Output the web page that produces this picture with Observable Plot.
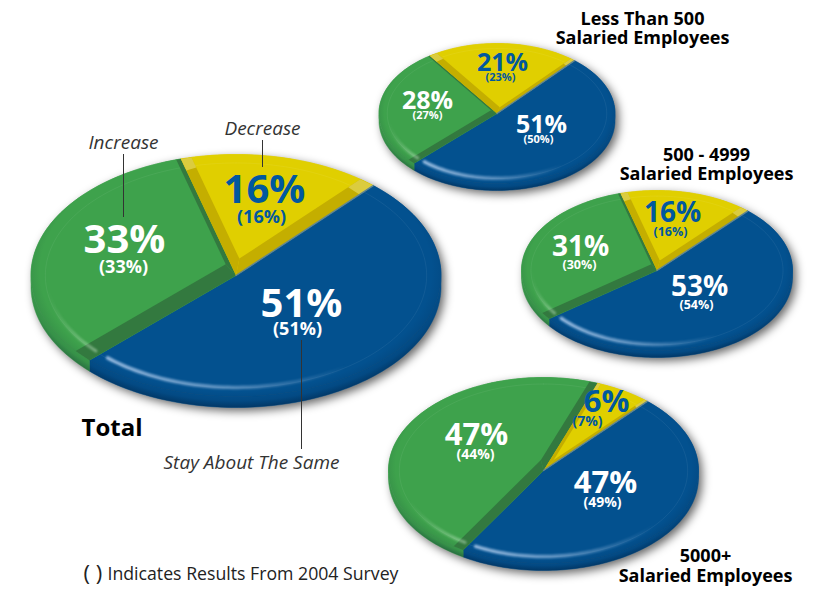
<!DOCTYPE html>
<html>
<head>
<meta charset="utf-8">
<script src="https://cdn.jsdelivr.net/npm/d3@7"></script>
<script src="https://cdn.jsdelivr.net/npm/@observablehq/plot@0.6"></script>
<style>
  html, body { margin: 0; padding: 0; background: #fff; }
  svg { display: block; }
</style>
</head>
<body>
<div id="chart"></div>
<script>
// Survey results: share of responses per company size.
const categories = ["Stay About The Same", "Increase", "Decrease"];
const groupTotal = "Total";
const group500 = ["Less Than 500", "Salaried Employees"];
const group4999 = ["500 - 4999", "Salaried Employees"];
const group5000 = ["5000+", "Salaried Employees"];

const valuesTotal = [51, 33, 16];
const valuesUnder500 = [51, 28, 21];
const values500to4999 = [53, 31, 16];
const values5000plus = [47, 47, 6];

const prior2004Total = [51, 33, 16];
const prior2004Under500 = [50, 27, 23];
const prior2004500to4999 = [54, 30, 16];
const prior20045000plus = [49, 44, 7];

const sliceColors = ["#03518f", "#3ea24c", "#e0cf00"];
const labelColors = ["#ffffff", "#ffffff", "#00589f"];

// Where each tilted pie sits, and the widths of its bevelled wedge edges.
const pieLayout = [
  {cx: 235.5, cy: 275, rx: 205, ry: 121, depth: 11, big: 40, small: 18, start: 42,
   bevel: {green: [0.073, 0.022], yellow: [0.05, 0.06]},
   labels: [[301, 304, 297, 329], [124, 240, 123, 267], [264, 190, 261, 217]]},
  {cx: 496.5, cy: 113, rx: 118, ry: 70, depth: 7, big: 25, small: 11, start: 41,
   bevel: {green: [0.05, 0.012], yellow: [0.055, 0.03]},
   labels: [[541, 124, 538, 139], [427, 100, 427, 115], [502, 62, 500, 77]]},
  {cx: 656.5, cy: 270, rx: 135.5, ry: 80, depth: 7, big: 28, small: 12.5, start: 42,
   bevel: {green: [0.06, 0.018], yellow: [0.05, 0.05]},
   labels: [[699, 287, 696, 304], [580, 247, 579, 264], [672, 213, 670, 231]]},
  {cx: 543, cy: 470, rx: 155, ry: 93, depth: 7, big: 31, small: 14, start: 42,
   bevel: {green: [0.06, 0.05], yellow: [0.02, 0.02]},
   labels: [[605, 483, 602, 502], [476, 435, 475, 454], [606, 402, 587, 421]]}
];
const pieValues = [valuesTotal, valuesUnder500, values500to4999, values5000plus];
const piePrior = [prior2004Total, prior2004Under500, prior2004500to4999, prior20045000plus];

const rad = d => d * Math.PI / 180;
const onEllipse = (p, a, k = 1, dy = 0) =>
  [p.cx + k * p.rx * Math.sin(a), p.cy - k * p.ry * Math.cos(a) + dy];
const arcPoints = (p, a0, a1, k = 1, dy = 0) => {
  const n = Math.max(2, Math.ceil(Math.abs(a1 - a0) / rad(1.5)));
  return d3.range(n + 1).map(i => onEllipse(p, a0 + (a1 - a0) * i / n, k, dy));
};
const inside = (p, [x, y]) =>
  ((x - p.cx) / p.rx) ** 2 + ((y - p.cy) / p.ry) ** 2 < 1;

// Rows for Plot.line: each closed outline becomes one z series.
const rows = {face: [], side: [], hull: [], shadow: [], inner: [], bands: [], caps: [], seams: [], glowBlue: [], glowGreen: []};
const push = (bucket, key, pts, extra = {}) =>
  pts.forEach(([x, y]) => rows[bucket].push({key, x, y, ...extra}));

// Crossing of two lines given as point + direction.
function meet(p0, d0, p1, d1) {
  const det = d0[0] * d1[1] - d0[1] * d1[0];
  const t = ((p1[0] - p0[0]) * d1[1] - (p1[1] - p0[1]) * d1[0]) / det;
  return [p0[0] + d0[0] * t, p0[1] + d0[1] * t];
}
const unit = ([x, y]) => { const l = Math.hypot(x, y); return [x / l, y / l]; };

// Walk from an interior point along dir until the ellipse edge is reached.
function toRim(p, from, dir) {
  let lo = 0, hi = p.rx * 2.2;
  for (let i = 0; i < 30; i++) {
    const mid = (lo + hi) / 2;
    if (inside(p, [from[0] + dir[0] * mid, from[1] + dir[1] * mid])) lo = mid; else hi = mid;
  }
  return [from[0] + dir[0] * lo, from[1] + dir[1] * lo];
}

// The two bevel strips running along the radial edges of one wedge.
function addBevel(p, i, arc, widths, category) {
  const V = [p.cx, p.cy];
  const R0 = onEllipse(p, arc.startAngle), R1 = onEllipse(p, arc.endAngle);
  const d0 = unit([R0[0] - V[0], R0[1] - V[1]]), d1 = unit([R1[0] - V[0], R1[1] - V[1]]);
  // Inward normals: clockwise-travelling wedge, so rotate each edge direction toward the interior.
  const n0 = [-d0[1], d0[0]], n1 = [d1[1], -d1[0]];
  const w0 = widths[0] * p.rx, w1 = widths[1] * p.rx;
  const A0 = [V[0] + n0[0] * w0, V[1] + n0[1] * w0];
  const A1 = [V[0] + n1[0] * w1, V[1] + n1[1] * w1];
  const Vi = meet(A0, d0, A1, d1);
  const E0 = toRim(p, Vi, d0), E1 = toRim(p, Vi, d1);
  const strips = [[R0, E0, w0, 0], [R1, E1, w1, 1]];
  strips.forEach(([R, E, w, side]) => {
    push("bands", `${i}-${category}-${side}`, [V, R, E, Vi, V], {category});
    if (category === "yellow") {
      const mix = (a, b, t) => [a[0] + (b[0] - a[0]) * t, a[1] + (b[1] - a[1]) * t];
      push("caps", `${i}-${side}`, [R, E, mix(E, Vi, 0.1), mix(R, V, 0.1), R]);
    }
  });
}

pieLayout.forEach((p, i) => {
  const arcs = d3.pie().sort(null).startAngle(rad(p.start)).endAngle(rad(p.start + 360))(pieValues[i]);
  // Outline of the whole extruded disc.
  const hull = d3.range(0, 361, 2).map(deg => onEllipse(p, rad(deg), 1, Math.cos(rad(deg)) < 0 ? p.depth : 0));
  push("hull", i, hull);
  push("shadow", i, hull.map(([x, y]) => [x + 3.5, y + 3.5]));
  push("inner", i, arcPoints(p, 0, 2 * Math.PI, 0.93));
  arcs.forEach((arc, j) => {
    const category = categories[j];
    const wedge = [[p.cx, p.cy], ...arcPoints(p, arc.startAngle, arc.endAngle)];
    push("face", `${i}-${j}`, [...wedge, wedge[0]], {category});
    const top = arcPoints(p, arc.startAngle, arc.endAngle);
    const bottom = arcPoints(p, arc.endAngle, arc.startAngle, 1, p.depth);
    push("side", `${i}-${j}`, [...top, ...bottom, top[0]], {category});
  });
  addBevel(p, i, arcs[1], p.bevel.green, "green");
  addBevel(p, i, arcs[2], p.bevel.yellow, "yellow");
  push("seams", i, [[p.cx, p.cy], onEllipse(p, arcs[0].startAngle)]);
  // Soft light catching the front rim, either side of the blue/green joint.
  push("glowBlue", i, arcPoints(p, arcs[0].endAngle - rad(3), arcs[0].endAngle - rad(82), 0.925));
  push("glowGreen", i, arcPoints(p, arcs[1].startAngle + rad(2), arcs[1].startAngle + rad(38), 0.925));
});

// Percentage labels: current value on top, 2004 value in parentheses below.
const labelRows = pieLayout.flatMap((p, i) => p.labels.flatMap((at, j) => [
  {x: at[0], y: at[1], text: `${pieValues[i][j]}%`, size: p.big, color: labelColors[j]},
  {x: at[2], y: at[3], text: `(${piePrior[i][j]}%)`, size: p.small, color: labelColors[j]}
]));

const headingRows = [
  {x: 642, y: 19, text: group500[0]}, {x: 642, y: 38, text: group500[1]},
  {x: 706, y: 155, text: group4999[0]}, {x: 706, y: 174, text: group4999[1]},
  {x: 705, y: 556, text: group5000[0]}, {x: 705, y: 576, text: group5000[1]}
];
const calloutRows = [
  {x: 123, y: 142, text: categories[1]},
  {x: 262, y: 128, text: categories[2]},
  {x: 251, y: 462, text: categories[0]}
];
const leaderRows = [
  {x: 123, y1: 154, y2: 217},
  {x: 262, y1: 140, y2: 167},
  {x: 301, y1: 340, y2: 449}
];

const fontFamily = "'Open Sans', sans-serif";

// Shared paint servers for the disc shading and the rim highlights.
const defs = () => {
  const d = d3.create("svg:defs");
  const shade = d.append("radialGradient").attr("id", "discShade")
    .attr("cx", 0.5).attr("cy", 0.46).attr("r", 0.555);
  [[0, 0], [0.86, 0], [0.925, 0.12], [0.975, 0.42], [1, 0.62]].forEach(([o, a]) =>
    shade.append("stop").attr("offset", o).attr("stop-color", "#00142e").attr("stop-opacity", a));
  const blue = d.append("linearGradient").attr("id", "glowBlue");
  [[0, 0.7], [0.5, 0.42], [1, 0]].forEach(([o, a]) =>
    blue.append("stop").attr("offset", o).attr("stop-color", "#cfe3ff").attr("stop-opacity", a));
  const green = d.append("linearGradient").attr("id", "glowGreen");
  [[0, 0], [1, 0.45]].forEach(([o, a]) =>
    green.append("stop").attr("offset", o).attr("stop-color", "#d8f5d8").attr("stop-opacity", a));
  return d.node();
};

const outline = (data, options) => Plot.line(data, {x: "x", y: "y", z: "key", stroke: "none", ...options});

const chart = Plot.plot({
  width: 823,
  height: 589,
  margin: 0,
  x: {domain: [0, 823], range: [0, 823], axis: null},
  y: {domain: [0, 589], range: [0, 589], axis: null},
  color: {domain: categories, range: sliceColors},
  style: {background: "#fff", fontFamily},
  marks: [
    defs,
    outline(rows.shadow, {fill: "#000", fillOpacity: 0.6, imageFilter: "blur(5px)"}),
    outline(rows.side, {fill: "category", stroke: "category", strokeWidth: 0.5}),
    outline(rows.face, {fill: "category", stroke: "category", strokeWidth: 0.5}),
    outline(rows.hull, {fill: "url(#discShade)"}),
    outline(rows.inner, {stroke: "#fff", strokeOpacity: 0.06, strokeWidth: 1}),
    outline(rows.bands.filter(d => d.category === "green"), {fill: "#33793f"}),
    outline(rows.bands.filter(d => d.category === "yellow"), {fill: "#c4ae00"}),
    outline(rows.caps, {fill: "#e6d85a", fillOpacity: 0.7}),
    outline(rows.seams, {stroke: "#5f8493", strokeWidth: 1.4}),
    outline(rows.glowBlue, {stroke: "url(#glowBlue)", strokeWidth: 3.5, imageFilter: "blur(0.8px)"}),
    outline(rows.glowGreen, {stroke: "url(#glowGreen)", strokeWidth: 3, imageFilter: "blur(0.8px)"}),
    Plot.ruleX(leaderRows, {x: "x", y1: "y1", y2: "y2", stroke: "#333", strokeWidth: 1}),
    Plot.text(labelRows, {x: "x", y: "y", text: "text", fontSize: "size", fontWeight: 700, fill: "color", fontFamily}),
    Plot.text(headingRows, {x: "x", y: "y", text: "text", fontSize: 18, fontWeight: 700, fill: "#000", fontFamily}),
    Plot.text(calloutRows, {x: "x", y: "y", text: "text", fontSize: 19, fontStyle: "italic", fill: "#333", fontFamily}),
    Plot.text([{x: 81, y: 428, text: groupTotal}], {x: "x", y: "y", text: "text", textAnchor: "start", fontSize: 24, fontWeight: 700, fill: "#000", fontFamily}),
    Plot.text([{x: 83, y: 573, text: "( )"}], {x: "x", y: "y", text: "text", textAnchor: "start", fontSize: 22, fill: "#222", fontFamily}),
    Plot.text([{x: 107, y: 574, text: "Indicates Results From 2004 Survey"}], {x: "x", y: "y", text: "text", textAnchor: "start", fontSize: 17.7, fill: "#222", fontFamily})
  ]
});
document.getElementById("chart").append(chart);
</script>
</body>
</html>
